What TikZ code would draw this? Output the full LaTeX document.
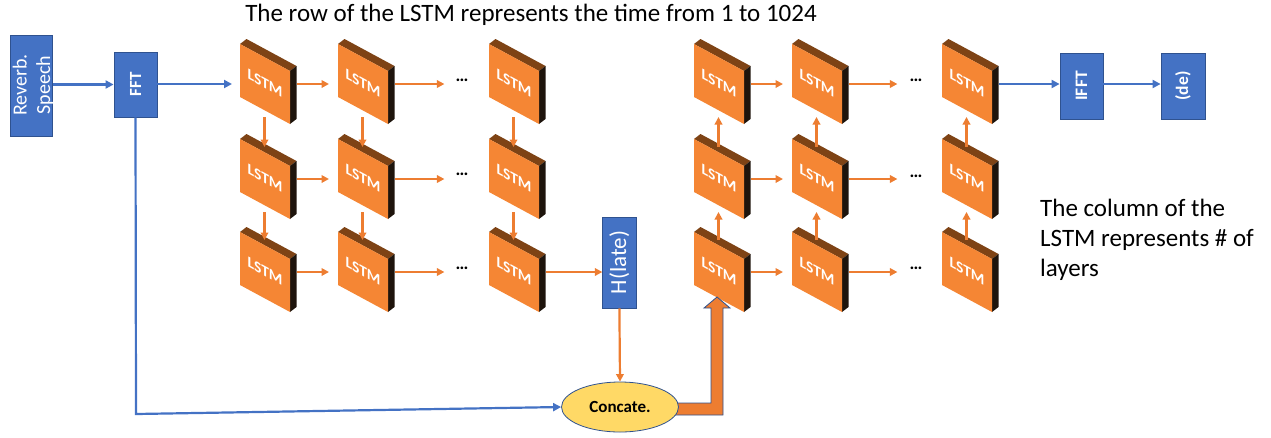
\documentclass[tikz,border=0pt]{standalone}
\usepackage{fontspec}
\setmainfont{Carlito}
\usetikzlibrary{arrows.meta,shapes.geometric}

\definecolor{boxblue}{HTML}{4472C4}
\definecolor{boxedge}{HTML}{2F528F}
\definecolor{arrorange}{HTML}{ED7D31}
\definecolor{lstmfront}{HTML}{F58634}
\definecolor{lstmtop}{HTML}{7E4315}
\definecolor{lstmside}{HTML}{1E140C}
\definecolor{catfill}{HTML}{FFD966}

\tikzset{
  bluebox/.style={draw=boxedge, line width=0.8pt, fill=boxblue, inner sep=0pt, text=white},
  bluearrow/.style={draw=boxblue, line width=2.2pt, -{Triangle[length=8pt,width=8pt]}},
  orangearrow/.style={draw=arrorange, line width=2.2pt, -{Triangle[length=7.5pt,width=7.5pt]}},
  lstmtext/.style={text=white, inner sep=0pt, yslant=-0.54,
    font=\fontsize{15.5}{16}\selectfont\bfseries},
  dots/.style={inner sep=0pt, font=\fontsize{18}{18}\selectfont\bfseries},
  fatarrow/.style={fill=arrorange, draw=boxedge, line width=0.8pt, line join=miter},
  % one 3-D LSTM tile: top face, side face, front face and the label
  lstm/.pic={
    \fill[lstmtop] (0,0) -- (6.5,-5) -- (56.5,22) -- (50,27) -- cycle;
    \fill[lstmside] (50,27) -- (56.5,22) -- (56.5,75) -- (50,80) -- cycle;
    \fill[lstmfront] (0,0) -- (50,27) -- (50,80) -- (0,53) -- cycle;
    \node[lstmtext] (-label) at (25,39) {LSTM};
    \coordinate (-e) at (57,40);
    \coordinate (-w) at (-9,40);
    \coordinate (-t) at (24.5,8);
    \coordinate (-b) at (24.5,73);
  }
}

\begin{document}
\begin{tikzpicture}[x=1pt,y=-1pt]
\useasboundingbox (0,0) rectangle (1271,437);

% caption texts
\node[anchor=base, inner sep=0pt, font=\fontsize{25}{30}\selectfont] (title) at (531,21)
  {The row of the LSTM represents the time from 1 to 1024};
\node[anchor=north west, inner sep=0pt, align=left, font=\fontsize{25}{30}\selectfont] (coltext)
  at (1040,199) {The column of the\\LSTM represents \# of\\layers};

% input side
\node[bluebox, minimum width=41.6pt, minimum height=101.7pt] (rev) at (31.5,85.9) {};
\node[rotate=90, align=center, text=white, inner sep=0pt,
      font=\fontsize{20}{23.5}\selectfont] (revtext) at (33,85) {Reverb.\\Speech};
\node[bluebox, minimum width=43pt, minimum height=65pt] (fft) at (135.5,84.5)
  {\rotatebox{90}{\fontsize{17}{17}\selectfont\bfseries FFT}};

% output side
\node[bluebox, minimum width=43pt, minimum height=66pt] (ifft) at (1081.5,86)
  {\rotatebox{90}{\fontsize{17.5}{17.5}\selectfont\bfseries IFFT}};
\node[bluebox, minimum width=44pt, minimum height=66pt] (de) at (1183,86)
  {\rotatebox{90}{\fontsize{17.5}{17.5}\selectfont\bfseries (de)}};

% late reverberation estimate
\node[bluebox, minimum width=33.3pt, minimum height=91pt] (hl) at (619.4,262.5)
  {\rotatebox{90}{\fontsize{23}{23}\selectfont H(late)}};

% LSTM grids
\foreach \r/\yy in {1/44,2/139,3/232}{
  \foreach \c/\xx in {1/240,2/338,3/489}{
    \pic (L\r\c) at (\xx,\yy) {lstm};
  }
  \foreach \c/\xx in {1/694,2/792,3/942}{
    \pic (R\r\c) at (\xx,\yy) {lstm};
  }
}

% ellipsis nodes between the second and third columns
\node[dots] (D1) at (462,80) {\textellipsis};
\node[dots] (D2) at (462,174) {\textellipsis};
\node[dots] (D3) at (462,268) {\textellipsis};
\node[dots] (E1) at (916,80) {\textellipsis};
\node[dots] (E2) at (916,176) {\textellipsis};
\node[dots] (E3) at (916,268) {\textellipsis};

% time direction connectors
\foreach \r in {1,2,3}{
  \draw[orangearrow] (L\r1-e) -- (L\r2-w);
  \draw[orangearrow] (L\r2-e) -- ([xshift=-11pt]D\r.west |- L\r2-e);
  \draw[orangearrow] (R\r1-e) -- (R\r2-w);
  \draw[orangearrow] (R\r2-e) -- ([xshift=-12pt]E\r.west |- R\r2-e);
}
% layer direction connectors
\foreach \c in {1,2,3}{
  \draw[orangearrow] (L1\c-b) -- (L2\c-t);
  \draw[orangearrow] (L2\c-b) -- (L3\c-t);
  \draw[orangearrow] (R3\c-t) -- (R2\c-b);
  \draw[orangearrow] (R2\c-t) -- (R1\c-b);
}

\draw[orangearrow] (L33-e) -- (hl.west |- L33-e);

% blue signal path
\draw[bluearrow] (rev.east |- fft.west) -- (fft.west);
\draw[bluearrow] (fft.east |- L11-w) -- ([xshift=1pt]L11-w);
\draw[bluearrow] (R13-e) -- (ifft.west |- R13-e);
\draw[bluearrow] (ifft.east |- R13-e) -- (de.west |- R13-e);

% wide arrow from the concatenation into the first layer
\draw[fatarrow] (672,403) -- (711,403) -- (711,308) -- (704,308) -- (717,297)
  -- (730,308) -- (723,308) -- (723,415) -- (672,415);

% concatenation
\coordinate (fftcorner) at (136,414);
\node[ellipse, draw=boxedge, line width=0.8pt, fill=catfill, minimum width=117pt,
      minimum height=50pt, inner sep=0pt, font=\fontsize{17}{17}\selectfont\bfseries]
      (cat) at (620,407) {Concate.};
\draw[bluearrow] (fft.south) -- (fftcorner) -- (cat.west);
\draw[orangearrow] (hl.south) -- (cat.north);
\end{tikzpicture}
\end{document}
